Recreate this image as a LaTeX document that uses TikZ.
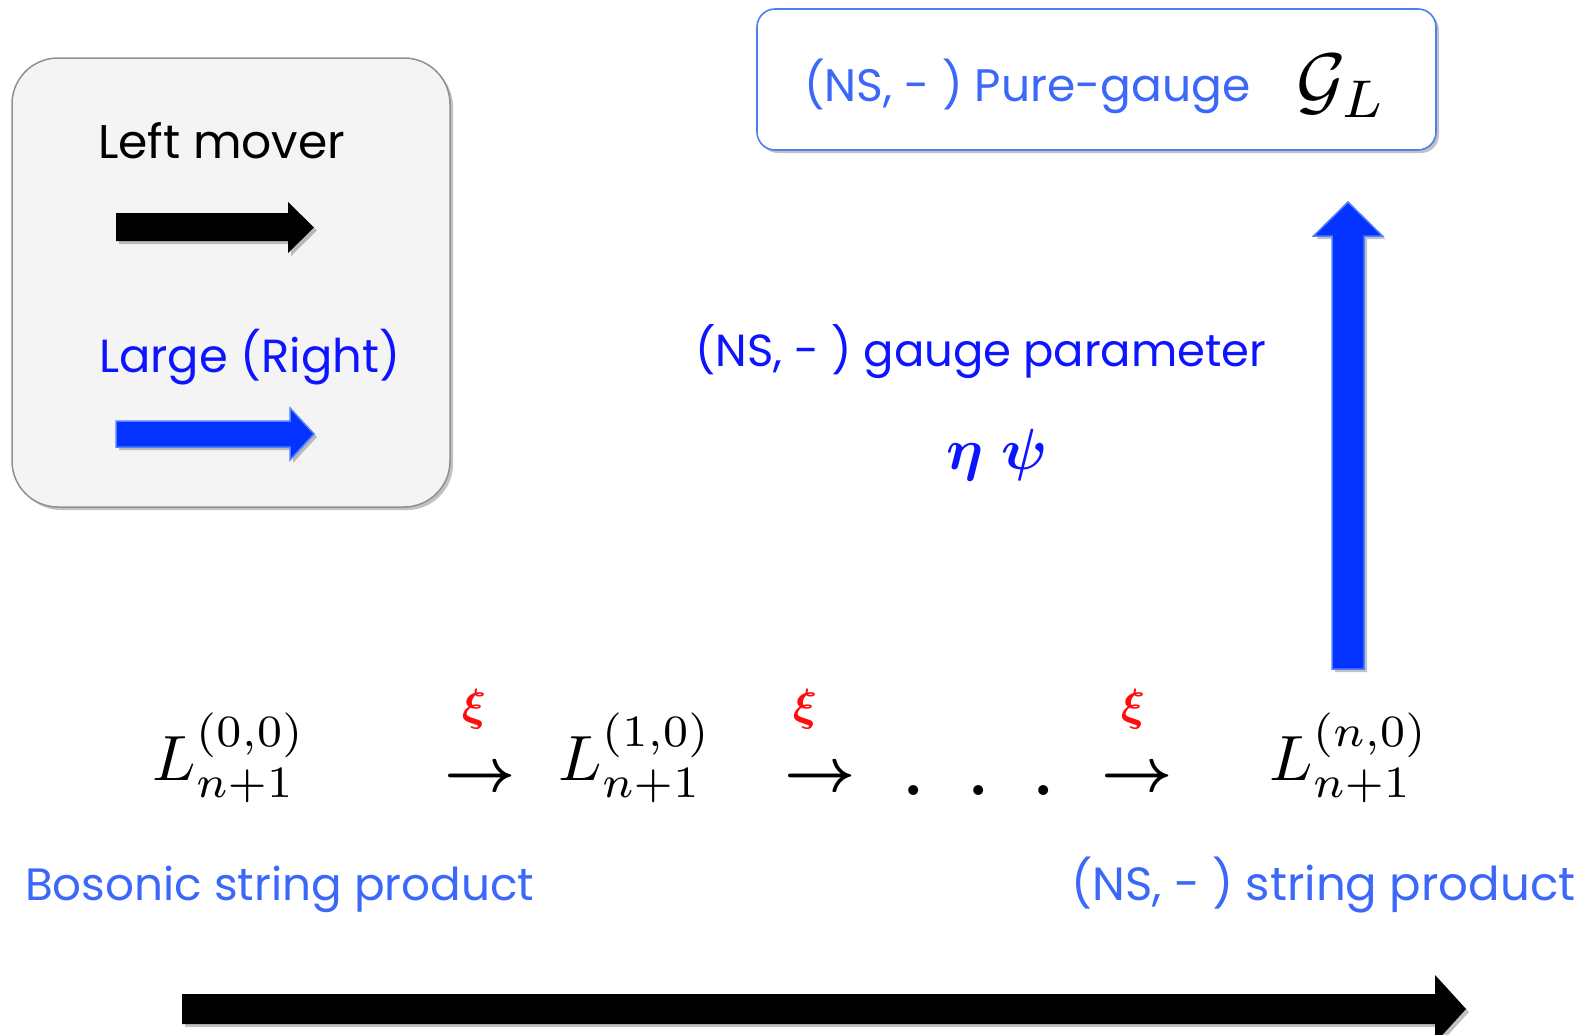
\documentclass[tikz,border=0pt]{standalone}
\usepackage{fontspec}
\setmainfont{Poppins}
\usepackage{bm}
\usetikzlibrary{shadows,calc}
\definecolor{lblue}{HTML}{3B68F8}
\definecolor{dblue}{HTML}{0D14FF}
\definecolor{arrblue}{HTML}{0433FF}
\definecolor{arredge}{HTML}{5080FF}
\definecolor{boxedge}{HTML}{4A80F0}
\definecolor{legfill}{HTML}{F4F4F4}
\definecolor{legedge}{HTML}{909090}
\definecolor{xired}{HTML}{FF0D0D}
\begin{document}
\begin{tikzpicture}[x=1pt,y=-1pt,
  softshadow/.style={drop shadow={shadow xshift=3pt,shadow yshift=-3pt,opacity=0.35,fill=black!70}},
  legendbox/.style={draw=legedge,line width=1.5pt,fill=legfill,rounded corners=46pt,softshadow},
  topbox/.style={draw=boxedge,line width=1.6pt,fill=white,rounded corners=18pt,softshadow},
  txt/.style={inner sep=0pt,anchor=base west},
  mathbig/.style={inner sep=0pt},
  xilabel/.style={inner sep=0pt,text=xired},
  blackarrow/.style={fill=black,softshadow},
  bluearrow/.style={fill=arrblue,draw=arredge,line width=1.5pt,softshadow}
]
\useasboundingbox (0,0) rectangle (1585,1034);
\clip (0,0) rectangle (1585,1034);

% legend
\node[legendbox,minimum width=438pt,minimum height=449pt,inner sep=0pt] (leg) at (231,282.5) {};
\node[txt] (lmover) at (98,158) {\resizebox{247pt}{!}{Left mover}};
\fill[blackarrow] (116,213) -- (288,213) -- (288,202) -- (314,227.5) -- (288,253) -- (288,241) -- (116,241) -- cycle;
\node[txt,text=dblue] (lright) at (99,372) {\resizebox{301pt}{!}{Large (Right)}};
\filldraw[bluearrow] (116,421) -- (290,421) -- (290,408) -- (314,434) -- (290,460) -- (290,447) -- (116,447) -- cycle;

% top box
\node[topbox,minimum width=679pt,minimum height=141pt,inner sep=0pt] (pg) at (1096.5,79.5) {};
\node[txt,text=lblue] (pgtext) at (804,101) {\resizebox{446pt}{!}{(NS, - ) Pure-gauge}};
\node[inner sep=0pt] (GL) at (1342,86) {\scalebox{7.6}{$\mathcal{G}_L$}};

% gauge parameter
\node[txt,text=dblue] (gp) at (695,366) {\resizebox{571pt}{!}{(NS, - ) gauge parameter}};
\node[inner sep=0pt,text=dblue] (etapsi) at (997,455) {\scalebox{5.8}{$\bm{\eta}\hspace{0.3em}\bm{\psi}$}};

% chain
\node[mathbig] (L0) at (229,758) {\scalebox{6.4}{$L^{(0,0)}_{n+1}$}};
\node[mathbig] (a1) at (480,779) {\scalebox{6.2}{$\bm{\rightarrow}$}};
\node[xilabel] (x1) at (474,709) {\scalebox{4.5}{$\bm{\xi}$}};
\node[mathbig] (L1) at (635,758) {\scalebox{6.4}{$L^{(1,0)}_{n+1}$}};
\node[mathbig] (a2) at (820,779) {\scalebox{6.2}{$\bm{\rightarrow}$}};
\node[xilabel] (x2) at (805,709) {\scalebox{4.5}{$\bm{\xi}$}};
\node[mathbig] (dots) at (979,791) {\scalebox{6.4}{$\bm{.}\hspace{7pt}\bm{.}\hspace{7pt}\bm{.}$}};
\node[mathbig] (a3) at (1137,779) {\scalebox{6.2}{$\bm{\rightarrow}$}};
\node[xilabel] (x3) at (1133,709) {\scalebox{4.5}{$\bm{\xi}$}};
\node[mathbig] (Ln) at (1349,758) {\scalebox{6.4}{$L^{(n,0)}_{n+1}$}};

% up arrow from L^{(n,0)} to pure gauge box
\coordinate (ub) at (1348,669);
\coordinate (ut) at (1348,202);
\filldraw[bluearrow] ($(ub)+(-16,0)$) -- ($(ut)+(-16,34)$) -- ($(ut)+(-34.5,34)$) -- (ut) -- ($(ut)+(34.5,34)$) -- ($(ut)+(16,34)$) -- ($(ub)+(16,0)$) -- cycle;

% bottom labels
\node[txt,text=lblue] (bos) at (25,900) {\resizebox{509pt}{!}{Bosonic string product}};
\node[txt,text=lblue] (nsp) at (1071,900) {\resizebox{504pt}{!}{(NS, - ) string product}};

% bottom arrow
\coordinate (bl) at (182,1009);
\coordinate (br) at (1466,1009);
\fill[blackarrow] ($(bl)+(0,-15)$) -- ($(br)+(-31,-15)$) -- ($(br)+(-31,-34)$) -- (br) -- ($(br)+(-31,34)$) -- ($(br)+(-31,15)$) -- ($(bl)+(0,15)$) -- cycle;
\end{tikzpicture}
\end{document}
